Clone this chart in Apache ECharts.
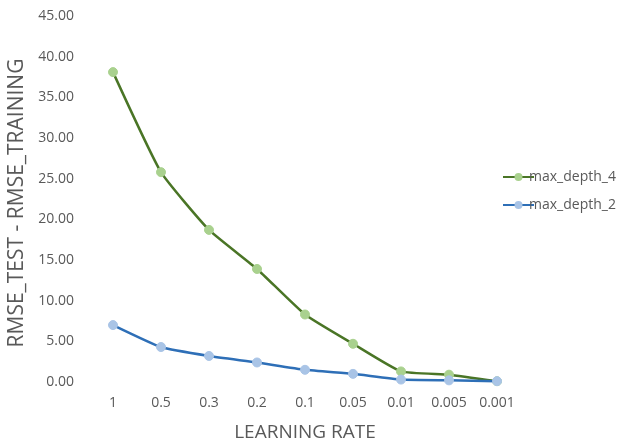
<!DOCTYPE html>
<html><head><meta charset="utf-8">
<script src="https://cdn.jsdelivr.net/npm/echarts@6/dist/echarts.min.js"></script>
<style>html,body{margin:0;padding:0;background:#fff}#c{width:623px;height:443px}</style>
</head><body><div id="c"></div>
<script>
const categories = ['1','0.5','0.3','0.2','0.1','0.05','0.01','0.005','0.001'];
const maxDepth4 = [38.1, 25.8, 18.7, 13.9, 8.3, 4.7, 1.3, 0.9, 0.1];
const maxDepth2 = [7.0, 4.3, 3.2, 2.4, 1.5, 1.0, 0.3, 0.2, 0.1];
const seriesNames = ['max_depth_4', 'max_depth_2'];

const chart = echarts.init(document.getElementById('c'), null, {renderer:'canvas'});
const font = 'Open Sans, Noto Sans, sans-serif';
chart.setOption({
  animation:false,
  grid:{left:89, right:102, top:16, bottom:61, outerBoundsMode:'none', containLabel:false},
  legend:{
    orient:'vertical', left:497, top:165, itemGap:14,
    itemWidth:31, itemHeight:10,
    textStyle:{color:'#595959', fontSize:14, fontFamily:font, padding:[0,0,0,-10]},
    data:seriesNames
  },
  xAxis:{
    type:'category', data:categories, boundaryGap:true,
    name:'LEARNING RATE', nameLocation:'middle', nameGap:41,
    nameTextStyle:{color:'#595959', fontSize:19, fontFamily:font},
    axisLine:{show:false}, axisTick:{show:false},
    axisLabel:{color:'#595959', fontSize:14, fontFamily:font, margin:14}
  },
  yAxis:{
    type:'value', min:0, max:45, interval:5,
    name:'RMSE_TEST - RMSE_TRAINING', nameLocation:'middle', nameGap:61,
    nameTextStyle:{color:'#595959', fontSize:21, fontFamily:font, padding:[0,8,0,0]},
    axisLine:{show:false}, axisTick:{show:false}, splitLine:{show:false},
    axisLabel:{color:'#595959', fontSize:14, fontFamily:font, margin:15,
      formatter:v=>v.toFixed(2)}
  },
  series:[
    {name:seriesNames[0], type:'line', data:maxDepth4, smooth:0.15,
     symbol:'circle', symbolSize:9,
     lineStyle:{color:'#4a7526', width:2.5},
     itemStyle:{color:'#a9d18e', borderColor:'#a9d18e'}, color:'#4a7526', z:2},
    {name:seriesNames[1], type:'line', data:maxDepth2, smooth:0.15,
     symbol:'circle', symbolSize:9,
     lineStyle:{color:'#2e6fb7', width:2.5},
     itemStyle:{color:'#a9c4e6', borderColor:'#a9c4e6'}, color:'#2e6fb7', z:3}
  ]
});
</script></body></html>
